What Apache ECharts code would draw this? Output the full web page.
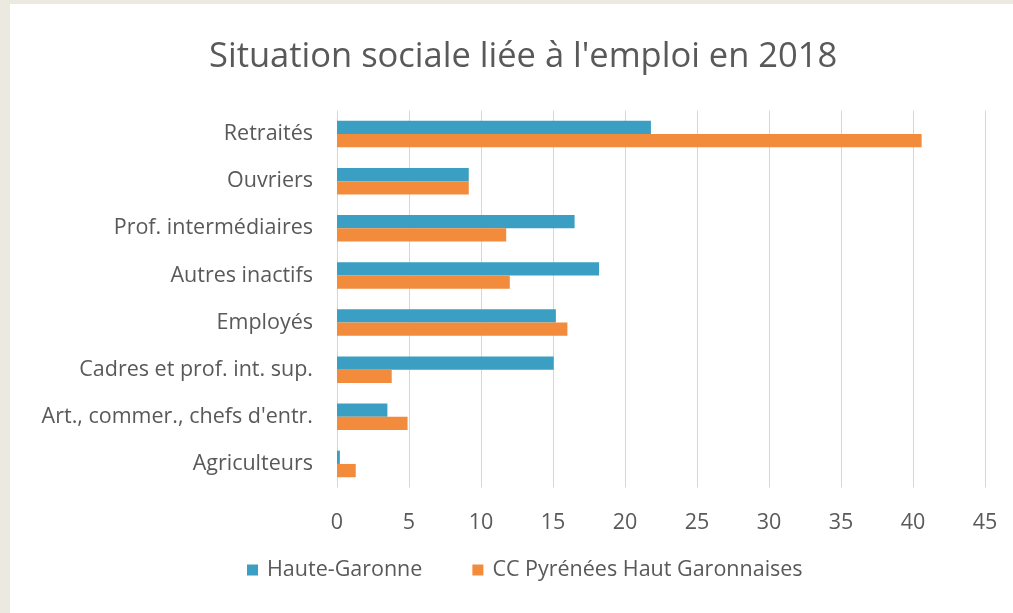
<!DOCTYPE html>
<html><head><meta charset="utf-8">
<script src="https://cdn.jsdelivr.net/npm/echarts@6/dist/echarts.min.js"></script>
<style>
html,body{margin:0;padding:0;background:#ECE9E1;width:1013px;height:613px;overflow:hidden}
#c{position:absolute;left:10px;top:4px;width:1003px;height:609px;background:#fff}
</style></head><body>
<div id="c"></div>
<script>
const categories = ["Retraités","Ouvriers","Prof. intermédiaires","Autres inactifs","Employés","Cadres et prof. int. sup.","Art., commer., chefs d'entr.","Agriculteurs"];
const hauteGaronne = [21.8, 9.15, 16.5, 18.2, 15.2, 15.05, 3.5, 0.2];
const ccPyrenees = [40.6, 9.15, 11.75, 12.0, 16.0, 3.8, 4.9, 1.3];
const xTicks = [0,5,10,15,20,25,30,35,40,45];

const chart = echarts.init(document.getElementById('c'), null, {renderer:'canvas'});
const font = '"Open Sans", sans-serif';
chart.setOption({
  animation:false,
  backgroundColor:'#fff',
  title:{text:"Situation sociale liée à l'emploi en 2018", left:194, top:31,
    textStyle:{fontFamily:font, fontSize:34.5, fontWeight:'normal', color:'#595959'}},
  legend:{bottom:27, left:232, itemWidth:11, itemHeight:11, itemGap:50, icon:'rect',
    textStyle:{fontFamily:font, fontSize:21.5, color:'#595959', padding:[0,0,0,4]}},
  grid:{left:327, right:28, top:106.5, bottom:125.5},
  xAxis:{type:'value', min:xTicks[0], max:xTicks[xTicks.length-1], interval:5,
    axisLine:{show:false}, axisTick:{show:false},
    splitLine:{lineStyle:{color:'#d6d6d6', width:1}},
    axisLabel:{fontFamily:font, fontSize:21.5, color:'#595959', margin:24}},
  yAxis:{type:'category', data:categories, inverse:true,
    axisLine:{show:false}, axisTick:{show:false},
    axisLabel:{fontFamily:font, fontSize:21.5, color:'#595959', margin:24}},
  series:[
    {name:'Haute-Garonne', type:'bar', data:hauteGaronne, barWidth:13.3, barGap:'0%', itemStyle:{color:'#3A9FC2'}},
    {name:'CC Pyrénées Haut Garonnaises', type:'bar', data:ccPyrenees, barWidth:13.3, barGap:'0%', itemStyle:{color:'#F28B3C'}}
  ]
});
</script></body></html>
